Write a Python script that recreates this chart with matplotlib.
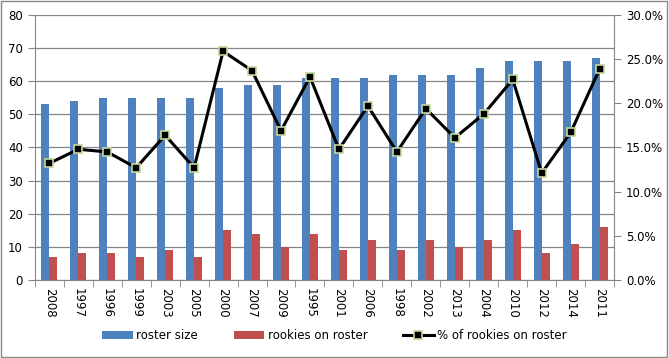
import matplotlib.pyplot as plt
import numpy as np
from matplotlib.ticker import PercentFormatter
from matplotlib.patches import Rectangle

years = ['2008', '1997', '1996', '1999', '2003', '2005', '2000', '2007', '2009', '1995',
         '2001', '2006', '1998', '2002', '2013', '2004', '2010', '2012', '2014', '2011']
roster_size = [53, 54, 55, 55, 55, 55, 58, 59, 59, 61, 61, 61, 62, 62, 62, 64, 66, 66, 66, 67]
rookies = [7, 8, 8, 7, 9, 7, 15, 14, 10, 14, 9, 12, 9, 12, 10, 12, 15, 8, 11, 16]
pct_rookies = [13.2, 14.8, 14.5, 12.7, 16.4, 12.7, 25.9, 23.7, 16.9, 23.0,
               14.8, 19.7, 14.5, 19.4, 16.1, 18.8, 22.7, 12.1, 16.7, 23.9]

plt.rcParams['font.family'] = 'DejaVu Sans'
plt.rcParams['font.size'] = 8.5

fig = plt.figure(figsize=(6.69, 3.58), dpi=100)
ax = fig.add_axes([0.052, 0.218, 0.866, 0.740])
fig.patches.append(Rectangle((0.002, 0.004), 0.995, 0.992, transform=fig.transFigure,
                             fill=False, edgecolor='#888888', linewidth=1))

x = np.arange(len(years))
w = 0.28
b1 = ax.bar(x - w / 2, roster_size, w, color='#4F81BD', label='roster size', zorder=2)
b2 = ax.bar(x + w / 2, rookies, w, color='#C0504D', label='rookies on roster', zorder=2)
ax.set_ylim(0, 80)
ax.set_yticks(range(0, 81, 10))
ax.set_xlim(-0.5, len(years) - 0.5)
ax.set_xticks(x)
ax.set_xticklabels(years, rotation=270)
ax.set_xticks(np.arange(-0.5, len(years), 1), minor=True)
ax.tick_params(axis='x', which='major', length=0, pad=6)
ax.tick_params(axis='x', which='minor', length=5, color='#868686')
ax.tick_params(axis='y', length=5, color='#868686', direction='out')
ax.grid(axis='y', color='#868686', linewidth=0.9, zorder=0)
for s in ['top', 'right']:
    ax.spines[s].set_visible(False)
for s in ['left', 'bottom']:
    ax.spines[s].set_color('#868686')

ax2 = ax.twinx()
l1, = ax2.plot(x, pct_rookies, color='black', linewidth=2.2, marker='s', markersize=5.5,
               markerfacecolor='black', markeredgecolor='#C3D69B', markeredgewidth=1.2,
               label='% of rookies on roster', zorder=3)
ax2.set_ylim(0, 30)
ax2.set_yticks(range(0, 31, 5))
ax2.yaxis.set_major_formatter(PercentFormatter(decimals=1))
ax2.tick_params(axis='y', length=5, color='#868686')
for s in ['top', 'left', 'bottom']:
    ax2.spines[s].set_visible(False)
ax2.spines['right'].set_color('#868686')

fig.legend(handles=[b1, b2, l1], loc='center', bbox_to_anchor=(0.5, 0.062), ncol=3,
           frameon=False, handlelength=2.6, columnspacing=3.0, handletextpad=0.3)

fig.savefig('out.png', dpi=100)
